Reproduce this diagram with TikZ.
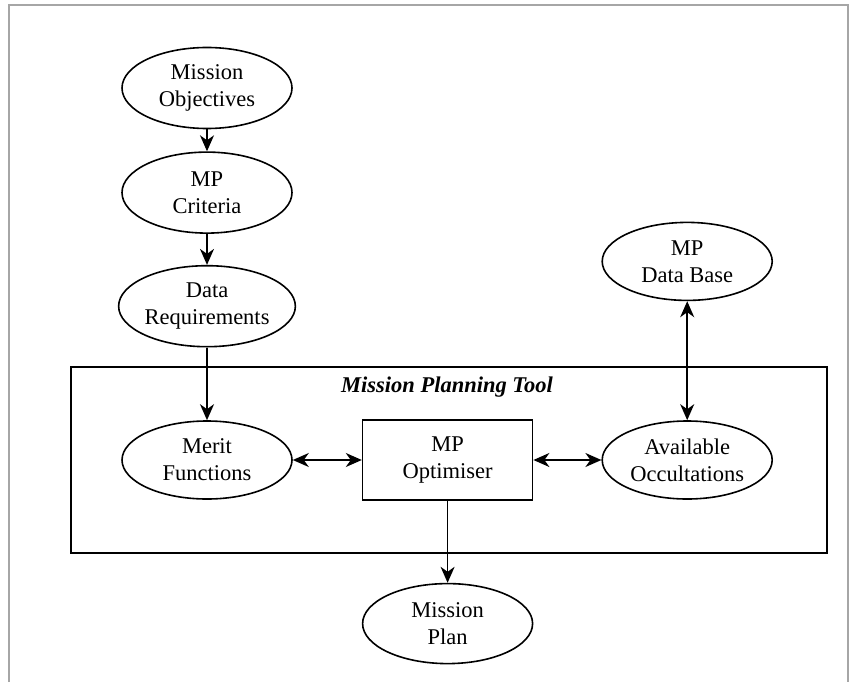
\documentclass[tikz,border=0pt]{standalone}
\usepackage{fontspec}
\setmainfont{Liberation Serif}
\usetikzlibrary{positioning, shapes.geometric, arrows.meta}

\begin{document}
\begin{tikzpicture}[x=1pt, y=-1pt, node distance=22pt, line width=1.6pt,
    every node/.style={font=\fontsize{22.5}{27}\selectfont, align=center},
    blob/.style={draw, ellipse, minimum width=170pt, minimum height=81pt, inner sep=0pt},
    stepbox/.style={draw, rectangle, minimum width=170pt, minimum height=80pt, inner sep=0pt},
    >={Stealth[length=16pt, width=14pt, inset=5pt]}]

    \useasboundingbox (0,0) rectangle (853,682);
    % page frame, open at the bottom
    \draw[gray!70, line width=1.5pt] (9,682) |- (848,5) -- (848,682);

    % planning tool frame
    \node (tool) [draw, rectangle, minimum width=756pt, minimum height=186pt, inner sep=0pt] at (449,460) {};
    \node (title) [font=\fontsize{22.5}{27}\selectfont\bfseries\itshape] at (447,387) {Mission Planning Tool};

    % left column
    \node (mobj) [blob] at (207,88) {Mission\\Objectives};
    \node (crit) [blob, below=22pt of mobj] {MP\\Criteria};
    \node (dreq) [blob, below=31pt of crit] {Data\\Requirements};

    % middle row
    \node (merit) [blob, minimum height=78pt] at (207,460) {Merit\\Functions};
    \node (optim) [stepbox, right=69pt of merit] {MP\\Optimiser};
    \node (avail) [blob, minimum height=78pt, right=68pt of optim] {Available\\Occultations};
    \node (dbase) [blob, minimum height=78pt, above=119pt of avail] {MP\\Data Base};
    \node (plan) [blob, minimum height=80pt, below=82pt of optim] {Mission\\Plan};

    % arrows
    \draw[->] (mobj.south) -- (crit.north);
    \draw[->] (crit.south) -- (dreq.north);
    \draw[->] (dreq.south) -- (merit.north);
    \draw[<->] (merit.east) -- (optim.west);
    \draw[<->] (optim.east) -- (avail.west);
    \draw[<->] (dbase.south) -- (avail.north);
    \draw[->] (optim.south) -- (plan.north);

\end{tikzpicture}
\end{document}
